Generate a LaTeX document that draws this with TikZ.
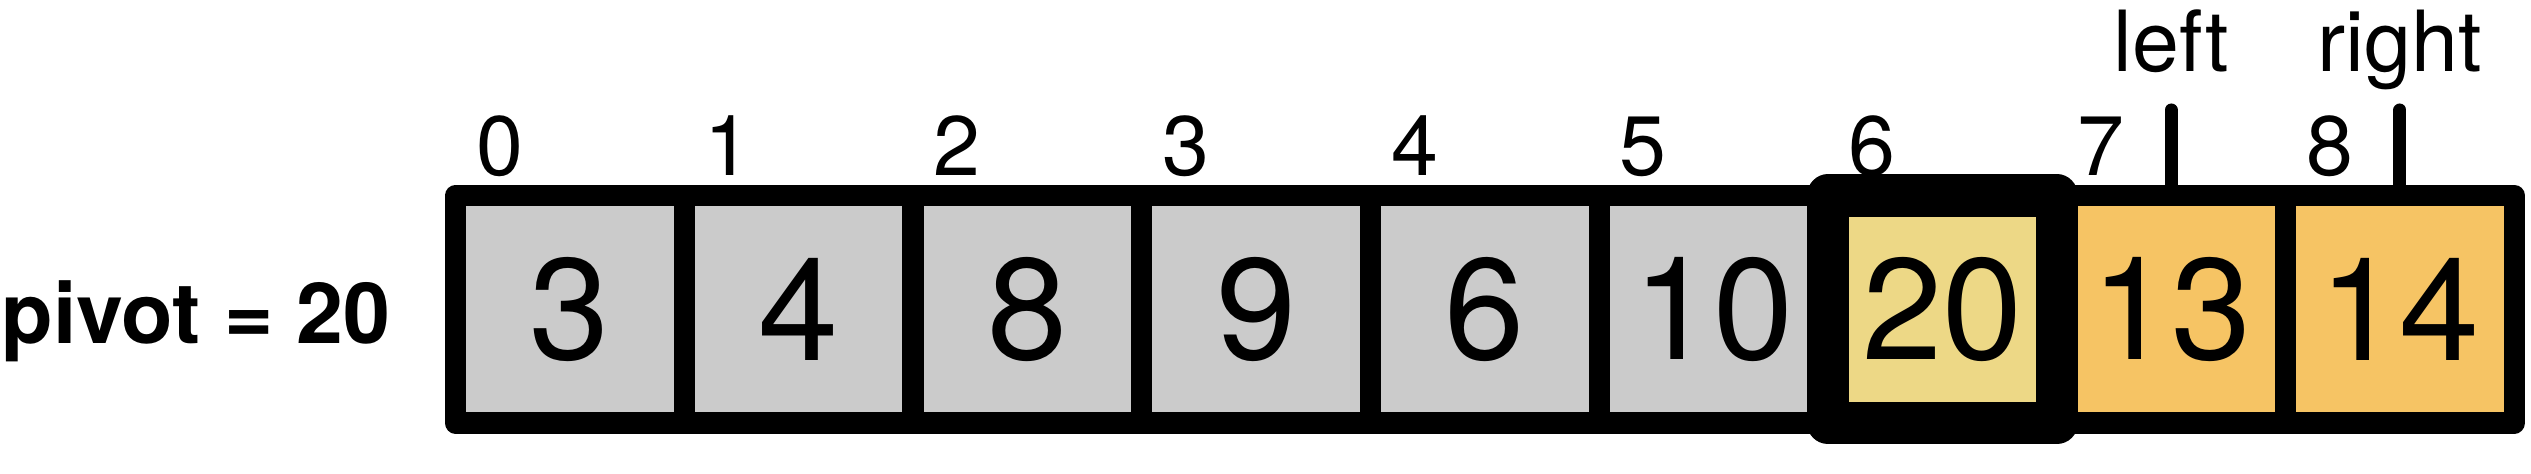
\documentclass[tikz,border=0pt]{standalone}
\usepackage{fontspec}
\setmainfont{TeX Gyre Heros}
\usepackage{xcolor}
\usepackage{tikz}
\usetikzlibrary{positioning}
\definecolor{cellgray}{HTML}{CBCBCB}
\definecolor{pivotyellow}{HTML}{EDD886}
\definecolor{scanorange}{HTML}{F6C464}

\begin{document}
\begin{tikzpicture}[line join=round,
  cellbox/.style={draw,line width=6pt,minimum width=2.2875cm,minimum height=2.275cm,
    inner sep=0pt,outer sep=0pt,font=\fontsize{41}{41}\selectfont},
  idx/.style={anchor=base west,inner sep=0pt,font=\fontsize{24}{24}\selectfont},
  ptrlabel/.style={anchor=base,inner sep=0pt,font=\fontsize{24}{24}\selectfont},
  ptr/.style={line width=3.7pt,line cap=round}]
  \useasboundingbox (0,0) rectangle (25.31,4.74);
  % Array cells with their indices
  \foreach \v/\col [count=\i from 0] in {3/cellgray,4/cellgray,8/cellgray,9/cellgray,
      6/cellgray,10/cellgray,20/pivotyellow,13/scanorange,14/scanorange} {
    \node[cellbox,fill=\col] (c\i) at (5.69875+2.2875*\i,1.6475) {\v};
    \node[idx] (i\i) at ([shift={(0.2,0.195)}]c\i.north west) {\i};
  }
  % Pivot cell frame (thick)
  \draw[line width=12pt] (c6.south west) rectangle (c6.north east);
  \node[anchor=base west,inner sep=0pt,font=\fontsize{24}{24}\selectfont\bfseries] (pv) at (0.01,1.30) {pivot = 20};
  % Pointers left and right
  \coordinate (lblline) at (0,4.02);
  \coordinate (ptrtop) at (0,3.64);
  \node[ptrlabel] (lft) at (c7 |- lblline) {left};
  \node[ptrlabel] (rgt) at (c8 |- lblline) {right};
  \coordinate (lptr) at (c7 |- ptrtop);
  \coordinate (rptr) at (c8 |- ptrtop);
  \draw[ptr] (c7.north) -- (lptr);
  \draw[ptr] (c8.north) -- (rptr);
\end{tikzpicture}
\end{document}
